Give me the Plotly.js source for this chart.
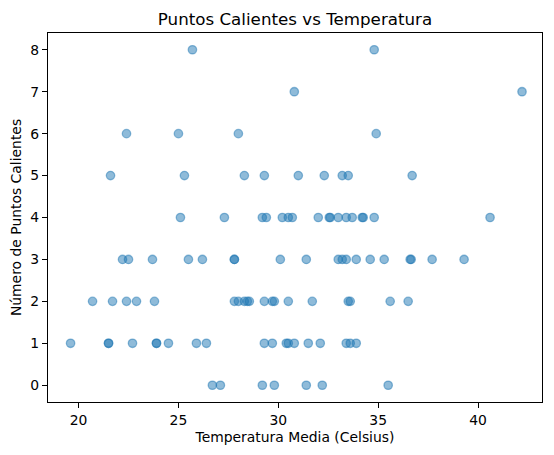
<!DOCTYPE html>
<html>
<head>
<meta charset="utf-8">
<script src="https://cdn.plot.ly/plotly-3.0.1.min.js"></script>
<style>html,body{margin:0;padding:0;background:#fff;}#chart{width:554px;height:455px;}</style>
</head>
<body>
<div id="chart"></div>
<script>
// Temperature readings grouped by number of hot spots
const hot0 = [26.7, 27.1, 29.2, 29.8, 31.4, 32.2, 35.5];
const hot1 = [19.6, 21.5, 21.5, 22.7, 23.9, 23.9, 24.5, 25.9, 26.4, 29.3, 29.7, 30.4, 30.5, 30.8, 31.5, 32.1, 33.4, 33.6, 33.9];
const hot2 = [20.7, 21.7, 22.4, 22.9, 23.8, 27.8, 28.0, 28.3, 28.45, 28.55, 29.3, 29.7, 29.8, 30.5, 31.7, 33.5, 33.6, 35.6, 36.5];
const hot3 = [22.2, 22.5, 23.7, 25.5, 26.2, 27.8, 27.8, 30.1, 31.4, 33.0, 33.2, 33.4, 33.9, 34.6, 35.3, 36.6, 36.65, 37.7, 39.3];
const hot4 = [25.1, 27.3, 29.2, 29.4, 30.2, 30.5, 30.7, 32.0, 32.55, 32.6, 33.0, 33.4, 33.7, 34.2, 34.25, 34.8, 40.6];
const hot5 = [21.6, 25.3, 28.3, 29.3, 31.0, 32.3, 33.2, 33.5, 36.7];
const hot6 = [22.4, 25.0, 28.0, 34.9];
const hot7 = [30.8, 42.2];
const hot8 = [25.7, 34.8];
const hotCounts = [0, 1, 2, 3, 4, 5, 6, 7, 8];
const tempsByCount = [hot0, hot1, hot2, hot3, hot4, hot5, hot6, hot7, hot8];
const xTicks = [20, 25, 30, 35, 40];

const temps = [];
const counts = [];
tempsByCount.forEach((arr, i) => arr.forEach(t => { temps.push(t); counts.push(hotCounts[i]); }));

const font = {family: 'DejaVu Sans, sans-serif', color: '#000'};
const axisCommon = {
  showline: true, mirror: true, linecolor: '#000', linewidth: 1.1,
  ticks: 'outside', ticklen: 5, tickwidth: 1.1, tickcolor: '#000',
  showgrid: false, zeroline: false,
  tickfont: {family: font.family, size: 13.9, color: '#000'}
};

Plotly.newPlot('chart', [{
  type: 'scatter', mode: 'markers',
  x: temps, y: counts,
  marker: {size: 8.4, color: 'rgba(31,119,180,0.5)', line: {color: 'rgba(31,119,180,0.5)', width: 1.3}},
  hoverinfo: 'skip'
}], {
  width: 554, height: 455,
  paper_bgcolor: '#fff', plot_bgcolor: '#fff',
  margin: {l: 48, r: 11.5, t: 32.5, b: 53, pad: 0},
  showlegend: false,
  title: {text: 'Puntos Calientes vs Temperatura', font: {family: font.family, size: 16.7, color: '#000'},
          x: 0.5, xref: 'paper', y: 1, yref: 'paper', yanchor: 'bottom', pad: {b: 8}},
  xaxis: Object.assign({}, axisCommon, {
    range: [18.47, 43.2], tickvals: xTicks, ticktext: xTicks.map(String),
    title: {text: 'Temperatura Media (Celsius)', font: {family: font.family, size: 13.9, color: '#000'}, standoff: 5}
  }),
  yaxis: Object.assign({}, axisCommon, {
    range: [-0.4, 8.4], tickvals: hotCounts, ticktext: hotCounts.map(String),
    title: {text: 'Número de Puntos Calientes', font: {family: font.family, size: 13.9, color: '#000'}, standoff: 5}
  })
}, {staticPlot: true});
</script>
</body>
</html>
